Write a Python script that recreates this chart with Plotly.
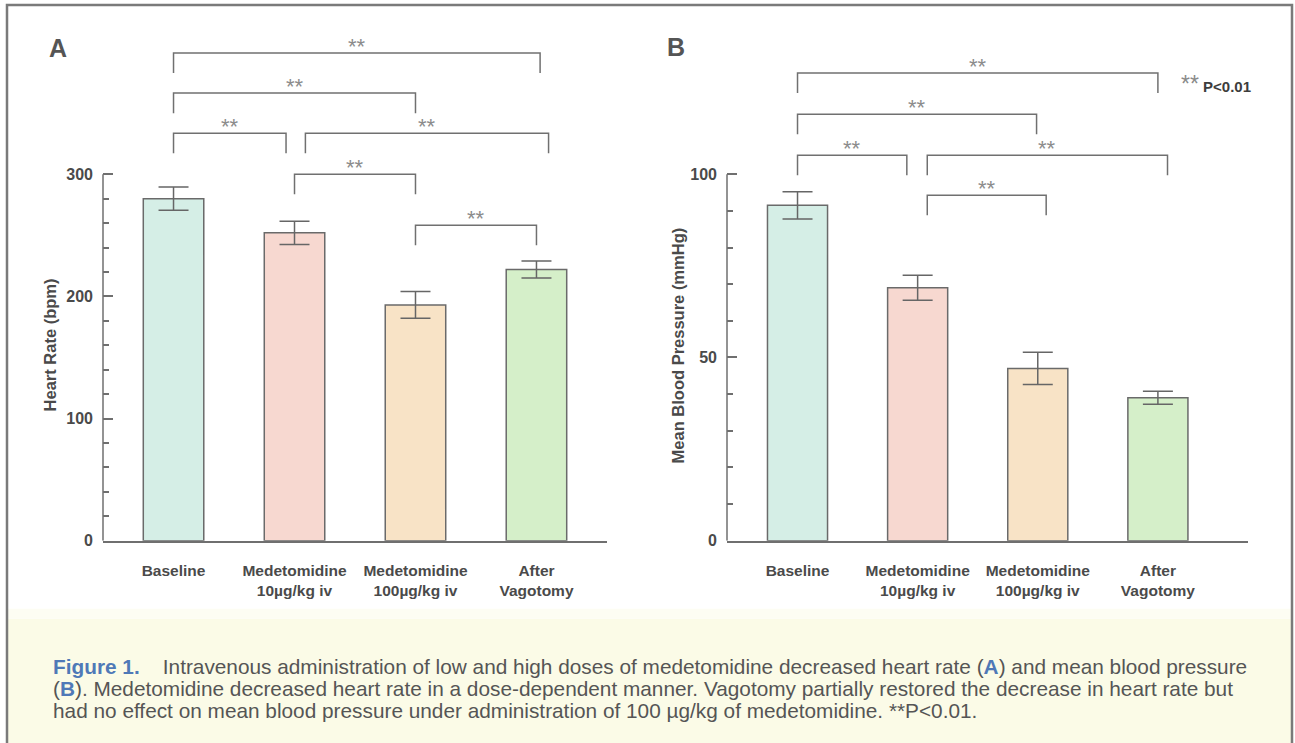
import plotly.graph_objects as go

W, H = 1295, 743

categories = ["Baseline", "Medetomidine<br>10\u00b5g/kg iv", "Medetomidine<br>100\u00b5g/kg iv", "After<br>Vagotomy"]
heart_rate = [280, 252, 193, 222]
heart_rate_err = [9.5, 9.5, 11, 7]
map_values = [91.5, 69, 47, 39]
map_err = [3.7, 3.4, 4.4, 1.8]
bar_colors = ["#d5eee6", "#f7d8d0", "#f8e3c6", "#d5efc9"]

hr_ticks = [0, 100, 200, 300]
hr_minor = [20, 40, 60, 80, 120, 140, 160, 180, 220, 240, 260, 280]
map_ticks = [0, 50, 100]
map_minor = [10, 20, 30, 40, 60, 70, 80, 90]

# significance comparisons (category index pairs), all P<0.01
hr_pairs = [(0, 3), (0, 2), (0, 1), (1, 3), (1, 2), (2, 3)]
map_pairs = [(0, 3), (0, 2), (0, 1), (1, 3), (1, 2)]
sig_label = "**"

SY = 1.0135  # vertical calibration

def px_x(p):
    return p / W

def px_y(p):
    return 1 - p * SY / H

AXC = "#6f6f6f"
TXT = "#4a4a4a"
FONT = "Liberation Sans, Arial, sans-serif"

A_dom_x = [px_x(103), px_x(607)]
B_dom_x = [px_x(727), px_x(1248)]
dom_y = [px_y(540), px_y(30)]
A_range_y = [0, 510 / 1.22]
B_range_y = [0, 510 / 3.66]
A_range_x = [-0.583, 3.583]
B_range_x = [-0.587, 3.75]

fig = go.Figure()

for vals, errs, xa, ya in [(heart_rate, heart_rate_err, "x", "y"), (map_values, map_err, "x2", "y2")]:
    fig.add_trace(go.Bar(
        x=categories, y=vals, xaxis=xa, yaxis=ya, width=0.5,
        marker=dict(color=bar_colors, line=dict(color="#6a6a6a", width=1.5)),
        error_y=dict(type="data", array=errs, visible=True, color="#666666", thickness=1.5, width=15),
        showlegend=False, hoverinfo="skip",
    ))

common_x = dict(type="category", showline=True, linecolor=AXC, linewidth=1.5, ticks="",
                showgrid=False, zeroline=False, ticklabelstandoff=15,
                tickfont=dict(family=FONT, size=15.5, color=TXT, weight="bold"))
common_y = dict(showline=False, ticks="inside", ticklen=10, tickwidth=1.5, tickcolor=AXC,
                showgrid=False, zeroline=False, tickmode="array", ticklabelstandoff=9,
                tickfont=dict(family=FONT, size=16, color=TXT, weight="bold"))

fig.update_layout(
    width=W, height=H, margin=dict(l=0, r=0, t=0, b=0), autosize=False,
    paper_bgcolor="white", plot_bgcolor="rgba(0,0,0,0)",
    bargap=0.5,
    xaxis=dict(domain=A_dom_x, range=A_range_x, anchor="y", **common_x),
    yaxis=dict(domain=dom_y, range=A_range_y, anchor="x", tickvals=hr_ticks,
               minor=dict(tickvals=hr_minor, ticks="inside", ticklen=6, tickwidth=1.5, tickcolor=AXC),
               **common_y),
    xaxis2=dict(domain=B_dom_x, range=B_range_x, anchor="y2", **common_x),
    yaxis2=dict(domain=dom_y, range=B_range_y, anchor="x2", tickvals=map_ticks,
                minor=dict(tickvals=map_minor, ticks="inside", ticklen=6, tickwidth=1.5, tickcolor=AXC),
                **common_y),
)

shapes = []
annotations = []

# caption background and frame
shapes.append(dict(type="rect", xref="paper", yref="paper", x0=px_x(8), x1=px_x(1291),
                   y0=-0.05, y1=px_y(618), fillcolor="#fbfbe7", line=dict(width=0), layer="below"))
shapes.append(dict(type="rect", xref="paper", yref="paper", x0=px_x(8), x1=px_x(1291),
                   y0=px_y(618), y1=px_y(608), fillcolor="#fdfdf3", line=dict(width=0), layer="below"))
shapes.append(dict(type="path", xref="paper", yref="paper",
                   path=f"M {px_x(7)} -0.05 L {px_x(7)} {px_y(5)} L {px_x(1292)} {px_y(5)} L {px_x(1292)} -0.05",
                   line=dict(color="#7a7a7a", width=2.5)))

# y axis lines (only up to top tick)
shapes.append(dict(type="line", xref="x domain", yref="y", x0=0, x1=0, y0=0, y1=hr_ticks[-1],
                   line=dict(color=AXC, width=1.5)))
shapes.append(dict(type="line", xref="x2 domain", yref="y2", x0=0, x1=0, y0=0, y1=map_ticks[-1],
                   line=dict(color=AXC, width=1.5)))

# bracket placement (style): [left offset, right offset, top level in px]
A_place = [(0, 0.03, 53), (0, 0, 93), (0, -0.07, 133), (0.09, 0.1, 133), (0, 0, 174), (0, 0, 225)]
B_place = [(0, 0, 73), (0, -0.01, 114), (0, -0.09, 155), (0.08, 0.08, 155), (0.08, 0.07, 195)]

def add_brackets(pairs, place, xa, ya, ppu):
    for (i, j), (dl, dr, top_px) in zip(pairs, place):
        top = (540 - top_px) / ppu
        leg = 20 / ppu
        x0, x1 = i + dl, j + dr
        shapes.append(dict(type="path", xref=xa, yref=ya,
                           path=f"M {x0} {top - leg} L {x0} {top} L {x1} {top} L {x1} {top - leg}",
                           line=dict(color="#707070", width=1.5)))
        annotations.append(dict(x=(x0 + x1) / 2, y=top + 7 / ppu, xref=xa, yref=ya, text=sig_label,
                                showarrow=False, xanchor="center", yanchor="middle",
                                font=dict(family=FONT, size=22, color="#8c8c8c")))

add_brackets(hr_pairs, A_place, "x", "y", 1.22)
add_brackets(map_pairs, B_place, "x2", "y2", 3.66)

# panel letters
annotations.append(dict(x=px_x(58), y=px_y(48), xref="paper", yref="paper", text="<b>A</b>", showarrow=False,
                        xanchor="center", yanchor="middle",
                        font=dict(family=FONT, size=25, color="#555555")))
annotations.append(dict(x=px_x(676), y=px_y(47), xref="paper", yref="paper", text="<b>B</b>", showarrow=False,
                        xanchor="center", yanchor="middle",
                        font=dict(family=FONT, size=25, color="#555555")))

# y axis titles
annotations.append(dict(x=px_x(50), y=px_y(345), xref="paper", yref="paper", text="<b>Heart Rate (bpm)</b>",
                        textangle=-90, showarrow=False, xanchor="center", yanchor="middle",
                        font=dict(family=FONT, size=16.5, color=TXT)))
annotations.append(dict(x=px_x(678), y=px_y(345), xref="paper", yref="paper", text="<b>Mean Blood Pressure (mmHg)</b>",
                        textangle=-90, showarrow=False, xanchor="center", yanchor="middle",
                        font=dict(family=FONT, size=16.5, color=TXT)))

# significance legend
annotations.append(dict(x=px_x(1179), y=px_y(84), xref="paper", yref="paper", xanchor="left", yanchor="middle",
                        text="<span style='color:#8a8a8a;font-size:23px'>**</span> <b>P&lt;0.01</b>", showarrow=False,
                        font=dict(family=FONT, size=15, color="#3d3d3d")))

# caption
CAP = "Liberation Sans, Arial"
blue = "#4f79b7"
cap_lines = [
    f"<b><span style='color:{blue}'>Figure 1.</span></b>    Intravenous administration of low and high doses of medetomidine decreased heart rate (<span style='color:{blue}'><b>A</b></span>) and mean blood pressure",
    f"(<span style='color:{blue}'><b>B</b></span>). Medetomidine decreased heart rate in a dose-dependent manner. Vagotomy partially restored the decrease in heart rate but",
    "had no effect on mean blood pressure under administration of 100 \u00b5g/kg of medetomidine. **P&lt;0.01.",
]
for k, line in enumerate(cap_lines):
    annotations.append(dict(x=px_x(51), y=px_y(666 + 22 * k), xref="paper", yref="paper", xanchor="left",
                            yanchor="middle", text=line, showarrow=False,
                            font=dict(family=CAP, size=20.8, color="#555555")))

fig.update_layout(shapes=shapes, annotations=annotations)
reset_css = (
    "var s=document.createElement('style');"
    "s.textContent='html,body{margin:0!important;padding:0!important;overflow:hidden!important;background:#fff;}';"
    "document.head.appendChild(s);"
)
fig.write_html("out.html", config={"displayModeBar": False, "responsive": False}, post_script=reset_css)
